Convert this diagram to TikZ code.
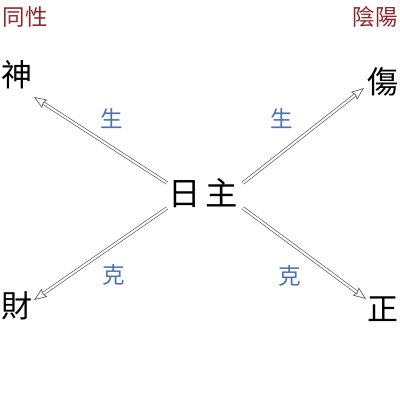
\documentclass[tikz,border=0pt]{standalone}
\usepackage{fontspec}
\newfontfamily\cjk{Noto Sans CJK TC}
\usetikzlibrary{arrows.meta}
\definecolor{titlered}{RGB}{140,40,45}
\definecolor{relblue}{RGB}{75,115,175}
\definecolor{arrowgray}{RGB}{95,95,95}
\begin{document}
\begin{tikzpicture}[x=0.025cm,y=-0.025cm,
  title/.style={text=titlered,font=\cjk\fontsize{16}{16}\selectfont,inner sep=0pt},
  star/.style={text=black,font=\cjk\fontsize{22}{22}\selectfont,inner sep=0pt},
  rel/.style={text=relblue,font=\cjk\fontsize{16}{16}\selectfont,inner sep=0pt},
  flow/.style={draw=arrowgray,double=white,double distance=1.4pt,line width=0.5pt,
    -{Stealth[open,length=9pt,width=7pt,inset=1pt]}}]
\useasboundingbox (0,0) rectangle (400,400);
\fill[white] (0,0) rectangle (400,400);
\node[title] (same) at (25,17) {同性};
\node[title] (diff) at (375,17) {陰陽};
\node[star] (shen) at (17,75) {神};
\node[star] (cai) at (17,306) {財};
\node[star] (shang) at (383,82) {傷};
\node[star] (zheng) at (383,309) {正};
\node[star,font=\cjk\fontsize{23}{23}\selectfont] (rizhu) at (203,193) {日\hspace{3pt}主};
\coordinate (ulTail) at (167,183);
\coordinate (ulTip) at (34,97);
\coordinate (urTail) at (243,183);
\coordinate (urTip) at (364,88);
\coordinate (llTail) at (167,208);
\coordinate (llTip) at (34,300);
\coordinate (lrTail) at (243,208);
\coordinate (lrTip) at (366,299);
\draw[flow] (ulTail) -- (ulTip);
\draw[flow] (urTail) -- (urTip);
\draw[flow] (llTail) -- (llTip);
\draw[flow] (lrTail) -- (lrTip);
\node[rel] (sheng1) at (112,119) {生};
\node[rel] (sheng2) at (282,119) {生};
\node[rel] (ke1) at (114,275) {克};
\node[rel] (ke2) at (290,276) {克};
\end{tikzpicture}
\end{document}
